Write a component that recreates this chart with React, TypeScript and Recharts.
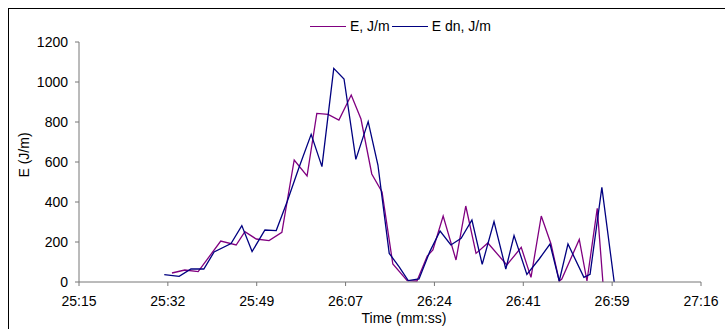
import { LineChart, Line, XAxis, YAxis, Legend } from 'recharts'

// time in seconds (25:15 = 1515 s)
const X_TICKS = [1515.3, 1532.6, 1549.9, 1567.2, 1584.5, 1601.8, 1619.1, 1636.4]
const Y_TICKS = [0, 200, 400, 600, 800, 1000, 1200]
const LEGEND_ORDER = ['E, J/m', 'E dn, J/m']

const eTime = [
  1533.4, 1535.9, 1538.5, 1542.9, 1545.9, 1547.6, 1549.8, 1552.3, 1554.8, 1557.2,
  1559.7, 1561.6, 1563.8, 1565.9, 1568.3, 1570.2, 1572.3, 1574.3, 1576.4, 1579.2,
  1581.1, 1583.1, 1584.2, 1586.2, 1588.7, 1590.6, 1592.6, 1594.9, 1598.6, 1601.4,
  1603.3, 1605.3, 1607.2, 1608.8, 1609.3, 1612.7, 1614.2, 1616.2, 1617.3,
]
const eValues = [
  45, 60, 52, 205, 185, 252, 215, 207, 248, 610,
  530, 843, 838, 810, 935, 815, 540, 450, 90, 7,
  5, 130, 160, 330, 110, 380, 143, 195, 85, 173,
  23, 330, 190, 5, 15, 213, 5, 368, 0,
]

const eDnTime = [
  1531.9, 1534.8, 1537.1, 1539.6, 1541.6, 1544.9, 1547.0, 1549.0, 1551.5, 1553.7,
  1555.8, 1558.1, 1560.5, 1562.6, 1564.9, 1566.9, 1569.2, 1571.6, 1573.5, 1575.7,
  1577.6, 1579.4, 1581.5, 1583.6, 1585.6, 1587.7, 1589.7, 1591.8, 1593.8, 1596.1,
  1598.4, 1600.0, 1602.5, 1604.9, 1607.0, 1608.8, 1610.5, 1613.6, 1614.8, 1617.1,
  1619.5,
]
const eDnValues = [
  37, 28, 65, 65, 150, 192, 282, 152, 260, 257,
  400, 570, 738, 577, 1068, 1015, 613, 802, 585, 143,
  77, 7, 15, 152, 255, 185, 218, 310, 88, 302,
  65, 232, 38, 115, 190, 5, 190, 23, 38, 473,
  0,
]

const eData = eTime.map((t, i) => ({ t, v: eValues[i] }))
const eDnData = eDnTime.map((t, i) => ({ t, v: eDnValues[i] }))

const fmtTime = (t: number) => {
  const s = Math.floor(t)
  const m = Math.floor(s / 60)
  return `${m}:${String(s % 60).padStart(2, '0')}`
}

const tickStyle = { fontSize: 14, fill: '#000' }

function LegendContent({ payload }: any) {
  const items = [...(payload ?? [])].sort(
    (a: any, b: any) => LEGEND_ORDER.indexOf(a.value) - LEGEND_ORDER.indexOf(b.value),
  )
  return (
    <div style={{ display: 'flex', alignItems: 'center', fontSize: 14, color: '#000' }}>
      {items.map((p: any) => (
        <div key={p.value} style={{ display: 'flex', alignItems: 'center' }}>
          <span
            style={{
              display: 'inline-block',
              width: 36,
              borderTop: `1.5px solid ${p.color}`,
              margin: '0 4px 0 2px',
            }}
          />
          <span>{p.value}</span>
        </div>
      ))}
    </div>
  )
}

export default function App() {
  return (
    <div
      style={{
        position: 'absolute',
        left: 0,
        top: 0,
        width: 725,
        height: 329,
        overflow: 'hidden',
        background: '#fff',
        fontFamily: '"Liberation Sans", Arial, sans-serif',
      }}
    >
      <div
        style={{
          position: 'absolute',
          left: 8,
          top: 8,
          width: 760,
          height: 360,
          border: '1px solid #000',
        }}
      />
      <div style={{ position: 'absolute', left: 0, top: 0 }}>
        <LineChart width={725} height={329} margin={{ top: 42, right: 24, bottom: 0, left: 0 }}>
          <XAxis
            dataKey="t"
            type="number"
            domain={[1515.3, 1636.4]}
            ticks={X_TICKS}
            tickFormatter={fmtTime}
            allowDataOverflow
            height={47}
            tick={tickStyle}
            tickSize={4}
            tickMargin={10}
            stroke="#777"
            label={{ value: 'Time (mm:ss)', position: 'insideBottom', offset: 6, dx: 14, fontSize: 14, fill: '#000' }}
          />
          <YAxis
            type="number"
            domain={[0, 1200]}
            ticks={Y_TICKS}
            width={79}
            tick={tickStyle}
            tickSize={4}
            tickMargin={7}
            stroke="#777"
            label={{ value: 'E  (J/m)', angle: -90, position: 'center', dx: -15.5, dy: -7, fontSize: 14, fill: '#000' }}
          />
          <Legend
            verticalAlign="middle"
            align="center"
            content={<LegendContent />}
            wrapperStyle={{ top: 18, left: 308, width: 'auto' }}
          />
          <Line
            data={eData}
            dataKey="v"
            name="E, J/m"
            stroke="#800080"
            strokeWidth={1.3}
            dot={false}
            isAnimationActive={false}
          />
          <Line
            data={eDnData}
            dataKey="v"
            name="E dn, J/m"
            stroke="#000080"
            strokeWidth={1.3}
            dot={false}
            isAnimationActive={false}
          />
        </LineChart>
      </div>
    </div>
  )
}
